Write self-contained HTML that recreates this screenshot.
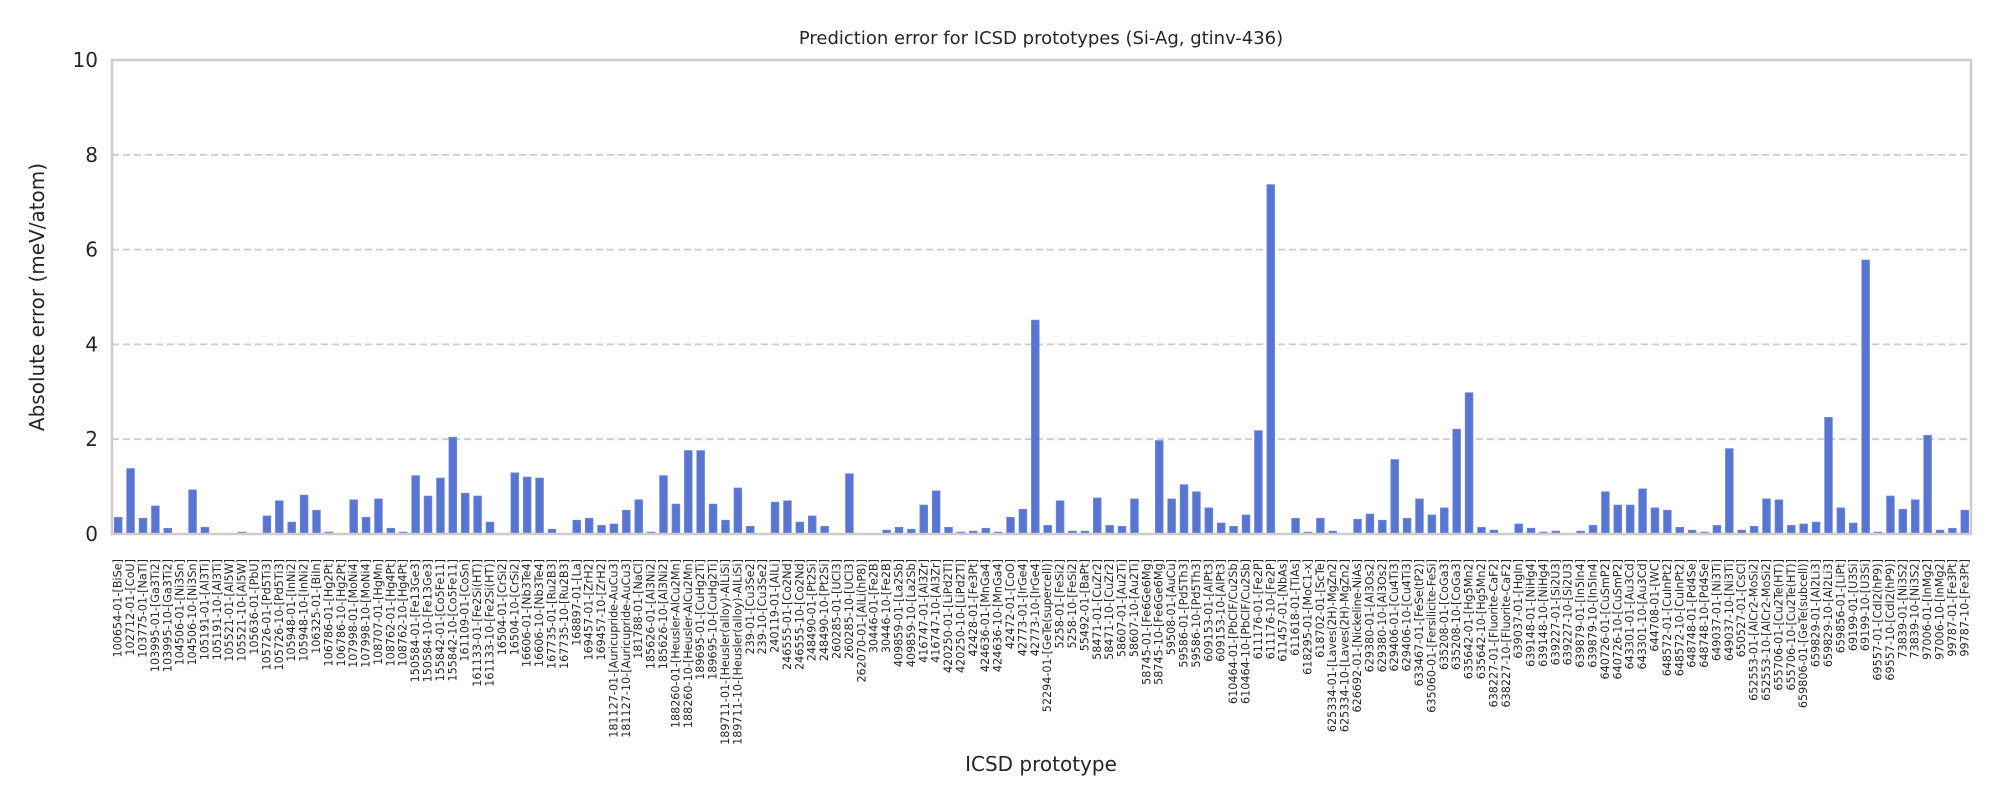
<!DOCTYPE html>
<html><head><meta charset="utf-8"><style>
html,body{margin:0;padding:0;background:#fff;}
svg{display:block;font-family:"DejaVu Sans","Liberation Sans",sans-serif;}
</style></head><body>
<svg id="chart" width="2000" height="800" viewBox="0 0 2000 800">
<text x="1041" y="44" font-size="18" text-anchor="middle" fill="#262626">Prediction error for ICSD prototypes (Si-Ag, gtinv-436)</text>
<text transform="translate(44,297) rotate(-90)" font-size="20" text-anchor="middle" fill="#262626">Absolute error (meV/atom)</text>
<text x="1041" y="771" font-size="20" text-anchor="middle" fill="#262626">ICSD prototype</text>
<g id="grid"></g><g id="bars"></g><g id="yticks"></g><g id="xticks"></g>
<rect x="112" y="60" width="1859" height="474" fill="none" stroke="#cccccc" stroke-width="2.5"/>
</svg>
<script>
const categories = ["100654-01-[BiSe]","102712-01-[CoU]","103775-01-[NaTl]","103995-01-[Ga3Ti2]","103995-10-[Ga3Ti2]","104506-01-[Ni3Sn]","104506-10-[Ni3Sn]","105191-01-[Al3Ti]","105191-10-[Al3Ti]","105521-01-[Al5W]","105521-10-[Al5W]","105636-01-[PbU]","105726-01-[Pd5Ti3]","105726-10-[Pd5Ti3]","105948-01-[InNi2]","105948-10-[InNi2]","106325-01-[BiIn]","106786-01-[Hg2Pt]","106786-10-[Hg2Pt]","107998-01-[MoNi4]","107998-10-[MoNi4]","108707-01-[HgMn]","108762-01-[Hg4Pt]","108762-10-[Hg4Pt]","150584-01-[Fe13Ge3]","150584-10-[Fe13Ge3]","155842-01-[Co5Fe11]","155842-10-[Co5Fe11]","161109-01-[CoSn]","161133-01-[Fe2Si(HT)]","161133-10-[Fe2Si(HT)]","16504-01-[CrSi2]","16504-10-[CrSi2]","16606-01-[Nb3Te4]","16606-10-[Nb3Te4]","167735-01-[Ru2B3]","167735-10-[Ru2B3]","168897-01-[La]","169457-01-[ZrH2]","169457-10-[ZrH2]","181127-01-[Auricupride-AuCu3]","181127-10-[Auricupride-AuCu3]","181788-01-[NaCl]","185626-01-[Al3Ni2]","185626-10-[Al3Ni2]","188260-01-[Heusler-AlCu2Mn]","188260-10-[Heusler-AlCu2Mn]","189695-01-[CuHg2Ti]","189695-10-[CuHg2Ti]","189711-01-[Heusler(alloy)-AlLiSi]","189711-10-[Heusler(alloy)-AlLiSi]","239-01-[Cu3Se2]","239-10-[Cu3Se2]","240119-01-[AlLi]","246555-01-[Co2Nd]","246555-10-[Co2Nd]","248490-01-[Pt2Si]","248490-10-[Pt2Si]","260285-01-[UCl3]","260285-10-[UCl3]","262070-01-[AlLi(hP8)]","30446-01-[Fe2B]","30446-10-[Fe2B]","409859-01-[La2Sb]","409859-10-[La2Sb]","416747-01-[Al3Zr]","416747-10-[Al3Zr]","420250-01-[LiPd2Tl]","420250-10-[LiPd2Tl]","42428-01-[Fe3Pt]","424636-01-[MnGa4]","424636-10-[MnGa4]","42472-01-[CoO]","42773-01-[IrGe4]","42773-10-[IrGe4]","52294-01-[GeTe(supercell)]","5258-01-[FeSi2]","5258-10-[FeSi2]","55492-01-[BaPt]","58471-01-[CuZr2]","58471-10-[CuZr2]","58607-01-[Au2Ti]","58607-10-[Au2Ti]","58745-01-[Fe6Ge6Mg]","58745-10-[Fe6Ge6Mg]","59508-01-[AuCu]","59586-01-[Pd5Th3]","59586-10-[Pd5Th3]","609153-01-[AlPt3]","609153-10-[AlPt3]","610464-01-[PbClF/Cu2Sb]","610464-10-[PbClF/Cu2Sb]","611176-01-[Fe2P]","611176-10-[Fe2P]","611457-01-[NbAs]","611618-01-[TiAs]","618295-01-[MoC1-x]","618702-01-[ScTe]","625334-01-[Laves(2H)-MgZn2]","625334-10-[Laves(2H)-MgZn2]","626692-01-[Nickeline-NiAs]","629380-01-[Al3Os2]","629380-10-[Al3Os2]","629406-01-[Cu4Ti3]","629406-10-[Cu4Ti3]","633467-01-[FeSe(tP2)]","635060-01-[Fersilicite-FeSi]","635208-01-[CoGa3]","635208-10-[CoGa3]","635642-01-[Hg5Mn2]","635642-10-[Hg5Mn2]","638227-01-[Fluorite-CaF2]","638227-10-[Fluorite-CaF2]","639037-01-[HgIn]","639148-01-[NiHg4]","639148-10-[NiHg4]","639227-01-[Si2U3]","639227-10-[Si2U3]","639879-01-[In5In4]","639879-10-[In5In4]","640726-01-[CuSmP2]","640726-10-[CuSmP2]","643301-01-[Au3Cd]","643301-10-[Au3Cd]","644708-01-[WC]","648572-01-[CuInPt2]","648572-10-[CuInPt2]","648748-01-[Pd4Se]","648748-10-[Pd4Se]","649037-01-[Ni3Ti]","649037-10-[Ni3Ti]","650527-01-[CsCl]","652553-01-[AlCr2-MoSi2]","652553-10-[AlCr2-MoSi2]","655706-01-[Cu2Te(HT)]","655706-10-[Cu2Te(HT)]","659806-01-[GeTe(subcell)]","659829-01-[Al2Li3]","659829-10-[Al2Li3]","659856-01-[LiPt]","69199-01-[U3Si]","69199-10-[U3Si]","69557-01-[CdI2(hP9)]","69557-10-[CdI2(hP9)]","73839-01-[Ni3S2]","73839-10-[Ni3S2]","97006-01-[InMg2]","97006-10-[InMg2]","99787-01-[Fe3Pt]","99787-10-[Fe3Pt]"];
const errors = [0.35,1.38,0.33,0.59,0.12,0.01,0.93,0.14,0,0,0.04,0,0.38,0.70,0.25,0.82,0.50,0.04,0,0.72,0.35,0.74,0.12,0.04,1.23,0.80,1.18,2.04,0.86,0.80,0.25,0.01,1.29,1.20,1.18,0.10,0,0.29,0.33,0.18,0.21,0.50,0.72,0.04,1.23,0.63,1.76,1.76,0.63,0.29,0.97,0.16,0.01,0.67,0.70,0.25,0.38,0.16,0,1.27,0.01,0,0.08,0.14,0.10,0.61,0.91,0.14,0.04,0.06,0.12,0.04,0.35,0.52,4.51,0.18,0.70,0.06,0.06,0.76,0.18,0.16,0.74,0.01,1.97,0.74,1.04,0.89,0.55,0.23,0.16,0.40,2.18,7.37,0,0.33,0.04,0.33,0.06,0,0.31,0.42,0.29,1.57,0.33,0.74,0.40,0.55,2.21,2.98,0.14,0.08,0.01,0.21,0.12,0.04,0.06,0,0.06,0.18,0.89,0.61,0.61,0.95,0.55,0.50,0.14,0.08,0.04,0.18,1.80,0.08,0.16,0.74,0.72,0.18,0.21,0.25,2.46,0.55,0.23,5.78,0.04,0.80,0.52,0.72,2.08,0.08,0.12,0.50];
const yTicks = [0,2,4,6,8,10];

const NS="http://www.w3.org/2000/svg";
const X0=112, X1=1971, Y0=534, Y1=60, YMAX=10;
const step=(X1-X0)/categories.length;
const xc=i=>X0+step*(i+0.5);
const ys=v=>Y0-(v/YMAX)*(Y0-Y1);
function mk(tag,attrs,parent){const e=document.createElementNS(NS,tag);for(const k in attrs)e.setAttribute(k,attrs[k]);parent.appendChild(e);return e;}
const gG=document.getElementById('grid'),gB=document.getElementById('bars'),gY=document.getElementById('yticks'),gX=document.getElementById('xticks');
yTicks.forEach(t=>{
  if(t>0&&t<YMAX){const l=mk('line',{x1:X0,x2:X1,y1:ys(t),y2:ys(t),stroke:'#cccccc','stroke-width':1.8,'stroke-dasharray':'7,4'},gG);
  
  }
  const tx=mk('text',{x:X0-14,y:ys(t)+7,'font-size':20,'text-anchor':'end',fill:'#262626'},gY);
  tx.textContent=t;
  
  
});
const bw=step*0.62;
errors.forEach((v,i)=>{
  const y=ys(v);
  const r=mk('rect',{x:xc(i)-bw/2,y:y,width:bw,height:Y0-y,fill:'#5875d1',stroke:'#6f88d8','stroke-width':0.8},gB);
  
  
});
categories.forEach((c,i)=>{
  const x=xc(i), y=559;
  const t=mk('text',{x:x,y:y,'font-size':11.2,'text-anchor':'end','dominant-baseline':'central',fill:'#262626',transform:'rotate(-90 '+x+' '+y+')'},gX);
  t.textContent=c;
  
  
});
</script>
</body></html>
